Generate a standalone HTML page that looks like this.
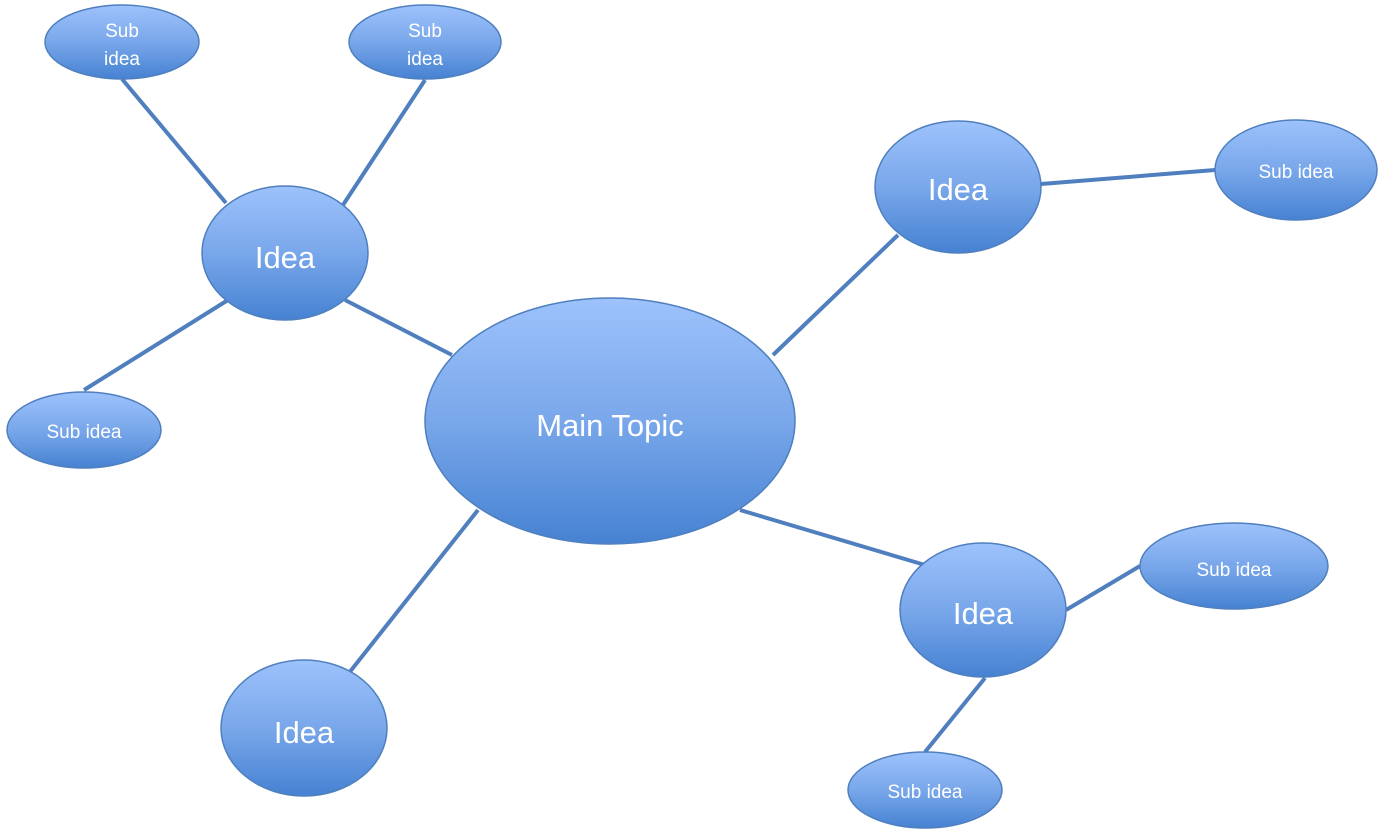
<!DOCTYPE html>
<html><head><meta charset="utf-8"><style>html,body{margin:0;padding:0;background:#fff;}svg{display:block}</style></head>
<body>
<svg width="1386" height="839" viewBox="0 0 1386 839" xmlns="http://www.w3.org/2000/svg">
<defs>
<linearGradient id="g" x1="0" y1="0" x2="0" y2="1">
<stop offset="0" stop-color="#9dc2fc"/><stop offset="0.5" stop-color="#79a7ea"/><stop offset="1" stop-color="#4682d2"/>
</linearGradient>
</defs>
<g stroke="#4f7fbe" stroke-width="4" fill="none">
<line x1="122" y1="79" x2="226" y2="203"/>
<line x1="425" y1="80" x2="343" y2="205"/>
<line x1="84" y1="390" x2="228" y2="300"/>
<line x1="345" y1="300" x2="452" y2="355"/>
<line x1="773" y1="355" x2="898" y2="235"/>
<line x1="1041" y1="184" x2="1215" y2="170"/>
<line x1="740" y1="510" x2="925" y2="565"/>
<line x1="478" y1="510" x2="345" y2="678"/>
<line x1="1066" y1="610" x2="1140" y2="566"/>
<line x1="985" y1="678" x2="925" y2="752"/>
</g>
<g fill="url(#g)" stroke="#4f7fbe" stroke-width="1.5">
<ellipse cx="610" cy="421" rx="185" ry="123"/>
<ellipse cx="285" cy="253" rx="83" ry="67"/>
<ellipse cx="958" cy="187" rx="83" ry="66"/>
<ellipse cx="983" cy="610" rx="83" ry="67"/>
<ellipse cx="304" cy="728" rx="83" ry="68"/>
<ellipse cx="122" cy="42" rx="77" ry="37"/>
<ellipse cx="425" cy="42" rx="76" ry="37"/>
<ellipse cx="84" cy="430" rx="77" ry="38"/>
<ellipse cx="1296" cy="170" rx="81" ry="50"/>
<ellipse cx="1234" cy="566" rx="94" ry="43"/>
<ellipse cx="925" cy="790" rx="77" ry="38"/>
</g>
<g fill="#fff" font-family="Liberation Sans, sans-serif" text-anchor="middle">
<text x="610" y="436" font-size="31">Main Topic</text>
<text x="285" y="268" font-size="31">Idea</text>
<text x="958" y="200" font-size="31">Idea</text>
<text x="983" y="624" font-size="31">Idea</text>
<text x="304" y="743" font-size="31">Idea</text>
<g font-size="19">
<text x="122" y="37">Sub</text><text x="122" y="65">idea</text>
<text x="425" y="37">Sub</text><text x="425" y="65">idea</text>
<text x="84" y="438">Sub idea</text>
<text x="1296" y="178">Sub idea</text>
<text x="1234" y="576">Sub idea</text>
<text x="925" y="798">Sub idea</text>
</g>
</g>
</svg>
</body></html>
